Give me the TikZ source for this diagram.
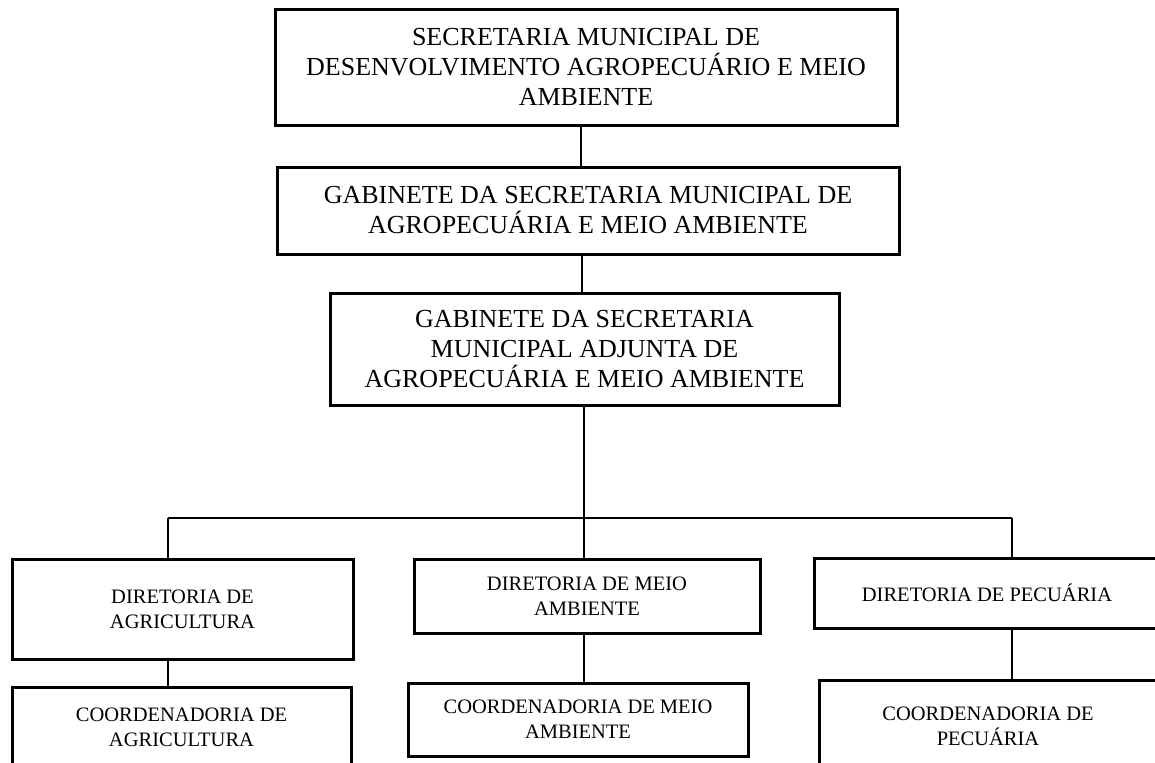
\documentclass[tikz,border=0pt]{standalone}
\usepackage{fontspec}
\setmainfont{Liberation Serif}
\usepackage{tikz}

\begin{document}
\begin{tikzpicture}[x=0.5pt, y=-0.5pt,
    bigbox/.style={draw, line width=1.5pt, align=center, inner sep=0pt,
        font=\fontsize{13}{15}\selectfont},
    smallbox/.style={draw, line width=1.5pt, align=center, inner sep=0pt,
        font=\fontsize{10.25}{12.5}\selectfont},
    link/.style={line width=0.6pt}]

    \clip (0,0) rectangle (1155,762);
    \fill[white] (0,0) rectangle (1155,762);

    % upper levels
    \node[bigbox, minimum width=311pt, minimum height=58pt] (secretaria) at (586,67)
        {SECRETARIA MUNICIPAL DE\\DESENVOLVIMENTO AGROPECUÁRIO E MEIO\\AMBIENTE};
    \node[bigbox, minimum width=311pt, minimum height=43.5pt] (gabinete) at (588,210.5)
        {GABINETE DA SECRETARIA MUNICIPAL DE\\AGROPECUÁRIA E MEIO AMBIENTE};
    \node[bigbox, minimum width=254.5pt, minimum height=56pt] (adjunta) at (584.5,349)
        {GABINETE DA SECRETARIA\\MUNICIPAL ADJUNTA DE\\AGROPECUÁRIA E MEIO AMBIENTE};

    % diretorias
    \node[smallbox, minimum width=170.5pt, minimum height=50pt] (dirAgri) at (182.5,609)
        {DIRETORIA DE\\AGRICULTURA};
    \node[smallbox, minimum width=173pt, minimum height=37pt] (dirMeio) at (587,596)
        {DIRETORIA DE MEIO\\AMBIENTE};
    \node[smallbox, minimum width=173pt, minimum height=35pt] (dirPec) at (987,593)
        {DIRETORIA DE PECUÁRIA};

    % coordenadorias
    \node[smallbox, minimum width=169.5pt, minimum height=40.5pt] (coordAgri) at (181.5,727.5)
        {COORDENADORIA DE\\AGRICULTURA};
    \node[smallbox, minimum width=170pt, minimum height=36.5pt] (coordMeio) at (578,719.5)
        {COORDENADORIA DE MEIO\\AMBIENTE};
    \node[smallbox, minimum width=169pt, minimum height=46.5pt] (coordPec) at (988,726.5)
        {COORDENADORIA DE\\PECUÁRIA};

    % ligacoes
    \coordinate (busL) at (168,518);
    \coordinate (busR) at (1012,518);

    \draw[link] ([xshift=-2.5pt]secretaria.south) -- ([xshift=-3.5pt]gabinete.north);
    \draw[link] ([xshift=-3pt]gabinete.south) -- ([xshift=-1.25pt]adjunta.north);
    \draw[link] ([xshift=-0.25pt]adjunta.south) -- ([xshift=-0.25pt]adjunta.south |- dirMeio.north);
    \draw[link] (busL) -- (busR);
    \draw[link] (busL) -- (busL |- dirAgri.north);
    \draw[link] (busR) -- (busR |- dirPec.north);

    \draw[link] (busL |- dirAgri.south) -- (busL |- coordAgri.north);
    \draw[link] ([xshift=-0.25pt]adjunta.south |- dirMeio.south) -- ([xshift=-0.25pt]adjunta.south |- coordMeio.north);
    \draw[link] (busR |- dirPec.south) -- (busR |- coordPec.north);

\end{tikzpicture}
\end{document}
